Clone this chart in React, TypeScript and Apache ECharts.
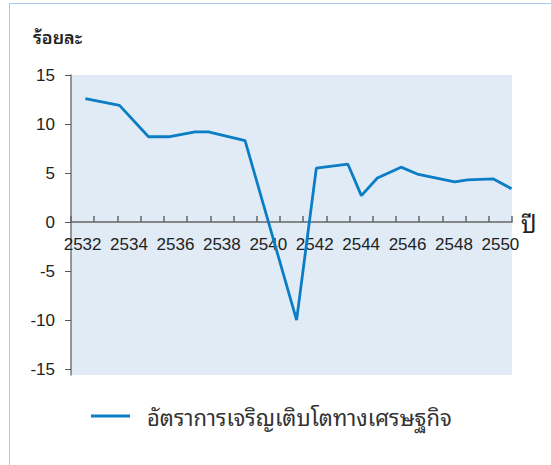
import React, { useEffect, useRef } from "react";
import * as echarts from "echarts";

// Category labels shown on the x axis (Buddhist-era years)
const yearCategories = [
  "2532", "2533", "2534", "2535", "2536", "2537", "2538", "2539", "2540", "2541",
  "2542", "2543", "2544", "2545", "2546", "2547", "2548", "2549", "2550",
];
// Position of each line vertex along the year scale (as drawn)
const pointYears = [
  2532.12, 2533.59, 2534.84, 2535.7, 2536.85, 2537.42, 2539.0, 2541.22, 2542.07,
  2543.43, 2544.01, 2544.7, 2545.72, 2546.42, 2548.03, 2548.58, 2549.7, 2550.48,
];
// Economic growth rate (%)
const growthRate = [
  12.6, 11.9, 8.7, 8.7, 9.2, 9.2, 8.3, -10.0, 5.5, 5.9, 2.7, 4.5, 5.6, 4.9, 4.1,
  4.3, 4.4, 3.4,
];
const yTicks = [-15, -10, -5, 0, 5, 10, 15];
const yMin = -15.6;
const yMax = 15;

const seriesName = "อัตราการเจริญเติบโตทางเศรษฐกิจ";
const yName = "ร้อยละ";
const xName = "ปี";

const FONT = '"Liberation Sans", Arial, "Noto Sans Thai Looped", "Noto Sans Thai", "Noto Sans", "DejaVu Sans", sans-serif';
const THAI_FONT = '"Noto Sans Thai Looped", "Loma", "Garuda", "Tahoma", "Noto Sans Thai", "Liberation Sans", "Noto Sans", "DejaVu Sans", sans-serif';

const GRID_TOP = 75;
const GRID_H = 300;

export default function App() {
  const ref = useRef<HTMLDivElement>(null);
  useEffect(() => {
    if (!ref.current) return;
    const chart = echarts.init(ref.current, null, { renderer: "svg" });
    const data = pointYears.map((x, i) => [x, growthRate[i]]);
    // shift the category axis so it sits on the zero line
    const zeroOffset = -(GRID_H * (0 - yMin)) / (yMax - yMin);
    chart.setOption({
      animation: false,
      textStyle: { fontFamily: FONT },
      grid: {
        left: 71,
        top: GRID_TOP,
        width: 441,
        height: GRID_H,
        show: true,
        backgroundColor: "#e0ebf6",
        borderWidth: 0,
      },
      graphic: [
        {
          type: "text",
          left: 33,
          top: 27,
          style: {
            text: yName,
            fontSize: 18,
            fontWeight: 600,
            fill: "#222",
            fontFamily: THAI_FONT,
          },
        },
      ],
      legend: {
        left: 91,
        top: 405,
        padding: 0,
        itemWidth: 39,
        itemHeight: 14,
        icon: "path://M0,6 L38,6 L38,9 L0,9 Z",
        itemStyle: { color: "#0a7dc4" },
        textStyle: {
          fontSize: 22,
          color: "#333",
          fontFamily: THAI_FONT,
          padding: [0, 0, 0, 12],
        },
        data: [seriesName],
      },
      xAxis: [
        {
          type: "category",
          data: yearCategories,
          boundaryGap: true,
          position: "bottom",
          offset: zeroOffset,
          name: xName,
          nameLocation: "end",
          nameGap: 9,
          nameTextStyle: { fontSize: 24, color: "#222", fontFamily: THAI_FONT },
          axisLine: {
            onZero: false,
            lineStyle: { color: "#666", width: 1.5 },
          },
          axisTick: {
            show: true,
            inside: true,
            length: 6,
            interval: 0,
            lineStyle: { color: "#666", width: 1.5 },
          },
          axisLabel: {
            interval: 1,
            margin: 14,
            fontSize: 17,
            color: "#222",
            fontFamily: FONT,
          },
          splitLine: { show: false },
        },
        {
          type: "value",
          min: 2531.5,
          max: 2550.5,
          show: false,
          splitLine: { show: false },
        },
      ],
      yAxis: {
        type: "value",
        min: yMin,
        max: yMax,
        axisLine: {
          show: true,
          onZero: false,
          lineStyle: { color: "#777", width: 1.5 },
        },
        axisTick: {
          show: true,
          length: 6,
          customValues: yTicks,
          lineStyle: { color: "#555", width: 1 },
        },
        axisLabel: {
          customValues: yTicks,
          margin: 16,
          fontSize: 17,
          color: "#222",
          fontFamily: FONT,
        },
        splitLine: { show: false },
      },
      series: [
        {
          name: seriesName,
          type: "line",
          xAxisIndex: 1,
          data,
          symbol: "none",
          lineStyle: { color: "#0a7dc4", width: 2.8 },
          itemStyle: { color: "#0a7dc4" },
        },
      ],
    });
    return () => chart.dispose();
  }, []);

  return (
    <div style={{ position: "absolute", left: 0, top: 0, width: 551, height: 465, overflow: "hidden", background: "#fff" }}>
      <div
        style={{
          position: "absolute",
          left: 9,
          top: 3,
          width: 600,
          height: 600,
          border: "1px solid #a6c8ee",
        }}
      />
      <div ref={ref} style={{ position: "absolute", left: 0, top: 0, width: 551, height: 465 }} />
    </div>
  );
}
